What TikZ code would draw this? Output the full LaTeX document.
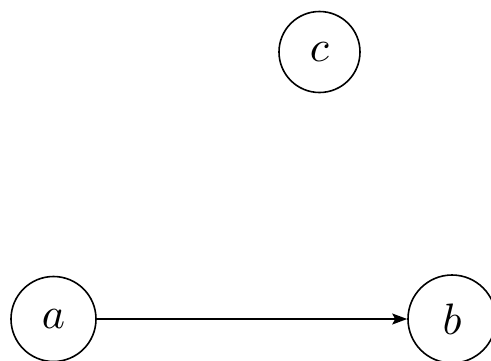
\documentclass[tikz,border=0pt]{standalone}
\usepackage{graphicx}
\usetikzlibrary{arrows.meta}
\begin{document}
\begin{tikzpicture}[x=1pt,y=-1pt,
  vertex/.style={circle,draw,line width=1.6pt,inner sep=0pt},
  edge/.style={line width=1.6pt,-{Stealth[length=15pt,width=11pt,inset=3pt]}}]
\useasboundingbox[fill=white] (0,0) rectangle (491,360);
\node[vertex,minimum size=85pt] (a) at (53.5,319) {\scalebox{4.4}{$a$}};
\node[vertex,minimum size=88pt] (b) at (452,319) {\scalebox{4.4}{$b$}};
\node[vertex,minimum size=81pt] (c) at (319.5,52) {\scalebox{4.4}{$c$}};
\draw[edge] (a) -- (b);
\end{tikzpicture}
\end{document}
